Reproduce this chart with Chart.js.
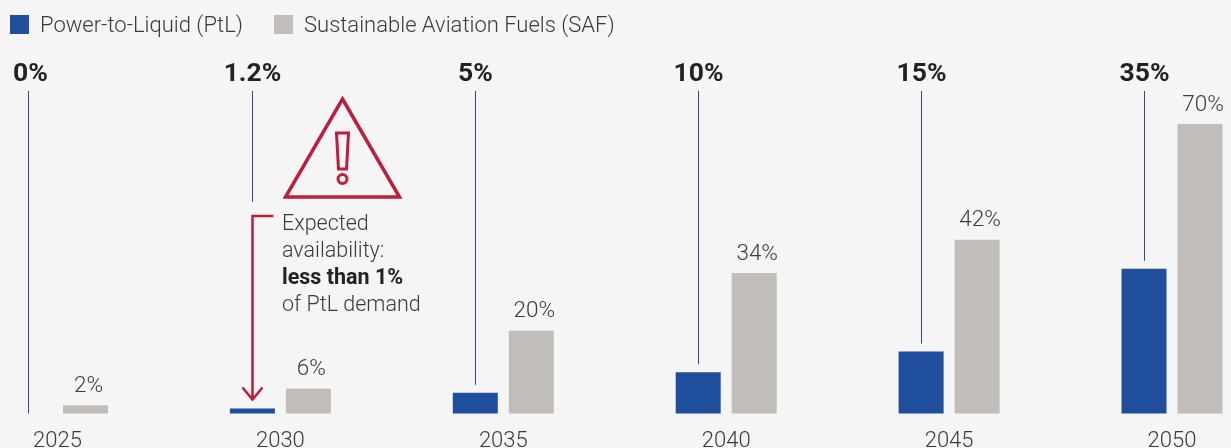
<!DOCTYPE html>
<html>
<head>
<meta charset="utf-8">
<style>
  html, body { margin: 0; background: #f5f5f5; overflow: hidden; }
  #wrap { position: relative; width: 1231px; height: 448px; }
  #legend { position: absolute; left: 10px; top: 12px; height: 26px; font: 300 22px/26px Roboto, sans-serif; color: #3a3a3a; white-space: nowrap; }
  #legend span { position: absolute; top: 0; }
  #legend i { position: absolute; top: 3px; width: 19px; height: 19px; }
</style>
</head>
<body>
<div id="wrap">
  <canvas id="chart" width="1231" height="448"></canvas>
  <div id="legend"></div>
</div>
<script src="https://cdn.jsdelivr.net/npm/chart.js@4/dist/chart.umd.js"></script>
<script>
const years = ['2025', '2030', '2035', '2040', '2045', '2050'];
const ptlValues = [0, 1.2, 5, 10, 15, 35];
const safValues = [2, 6, 20, 34, 42, 70];
const seriesNames = ['Power-to-Liquid (PtL)', 'Sustainable Aviation Fuels (SAF)'];
const noteLines = ['Expected', 'availability:', 'less than 1%', 'of PtL demand'];

const BLUE = '#1f4e9c';
const GREY = '#c1bdb9';
const RED = '#bd1e3c';
const NAVY = '#33487f';
const TEXT = '#3a3a3a';
const FONT = 'Roboto, sans-serif';

// legend is plain html, the chart legend can't be placed above the padded area
const legendLeft = [0, 264];
const legendEl = document.getElementById('legend');
seriesNames.forEach((name, i) => {
  const box = document.createElement('i');
  box.style.left = legendLeft[i] + 'px';
  box.style.background = i === 0 ? BLUE : GREY;
  const label = document.createElement('span');
  label.style.left = (legendLeft[i] + 30) + 'px';
  label.textContent = name;
  legendEl.append(box, label);
});

const overlay = {
  id: 'overlay',
  afterDatasetsDraw(chart) {
    const ctx = chart.ctx;
    const ptl = chart.getDatasetMeta(0).data;
    const saf = chart.getDatasetMeta(1).data;
    ctx.save();
    ctx.textAlign = 'center';
    ctx.textBaseline = 'middle';

    // values above the SAF bars
    ctx.fillStyle = TEXT;
    ctx.font = '300 22.5px ' + FONT;
    saf.forEach((bar, i) => ctx.fillText(safValues[i] + '%', bar.x + 3, bar.y - 19));

    ptl.forEach((bar, i) => {
      const x = Math.round(bar.x) + 0.5;
      // bold PtL value on top with a thin leader down to the bar
      ctx.fillStyle = '#222222';
      ctx.font = '700 26.5px ' + FONT;
      ctx.fillText(ptlValues[i] + '%', x, 74);
      // the first leader sits a little left of its label
      const lineX = i === 0 ? x - 2 : x;
      ctx.strokeStyle = NAVY;
      ctx.lineWidth = 1;
      ctx.beginPath();
      ctx.moveTo(lineX, 91);
      ctx.lineTo(lineX, i === 0 ? bar.y : i === 1 ? 202 : bar.y - 8);
      ctx.stroke();
    });

    // warning + arrow next to 2030
    const x = Math.round(ptl[1].x) + 0.5;
    const tip = ptl[1].y - 9;
    ctx.strokeStyle = RED;
    ctx.lineWidth = 2.5;
    ctx.beginPath();
    ctx.moveTo(x + 21, 216);
    ctx.lineTo(x, 216);
    ctx.lineTo(x, tip);
    ctx.moveTo(x - 10, tip - 12);
    ctx.lineTo(x, tip);
    ctx.lineTo(x + 10, tip - 12);
    ctx.stroke();

    const cx = x + 90;
    ctx.lineWidth = 3.5;
    ctx.beginPath();
    ctx.moveTo(cx, 99);
    ctx.lineTo(cx + 57, 197);
    ctx.lineTo(cx - 57, 197);
    ctx.closePath();
    ctx.stroke();
    ctx.lineWidth = 3;
    ctx.beginPath();
    ctx.moveTo(cx - 6, 133);
    ctx.lineTo(cx + 6, 133);
    ctx.lineTo(cx + 4, 169);
    ctx.lineTo(cx - 4, 169);
    ctx.closePath();
    ctx.stroke();
    ctx.beginPath();
    ctx.arc(cx, 179, 4.5, 0, Math.PI * 2);
    ctx.stroke();

    ctx.textAlign = 'left';
    noteLines.forEach((line, i) => {
      ctx.font = (i === 2 ? '700 ' : '300 ') + '21.5px ' + FONT;
      ctx.fillStyle = i === 2 ? '#222222' : TEXT;
      ctx.fillText(line, x + 29.5, 225 + i * 27);
    });
    ctx.restore();
  },
};

new Chart(document.getElementById('chart'), {
  type: 'bar',
  data: {
    labels: years,
    datasets: [
      { label: seriesNames[0], data: ptlValues, backgroundColor: BLUE, clip: false },
      { label: seriesNames[1], data: safValues, backgroundColor: GREY, clip: false },
    ],
  },
  options: {
    responsive: false,
    animation: false,
    categoryPercentage: 112 / 222.9,
    barPercentage: 45 / 56,
    layout: { padding: { left: 57.5, right: 59, top: 124, bottom: 0 } },
    plugins: { legend: { display: false }, tooltip: { enabled: false } },
    scales: {
      x: {
        offset: false,
        grid: { display: false },
        border: { display: false },
        ticks: { color: TEXT, font: { family: FONT, size: 22, weight: '300', lineHeight: 1 }, padding: 9, maxRotation: 0, autoSkip: false },
        afterFit(scale) { scale.height = 34.5; },
      },
      y: { display: false, min: 0, max: 70 },
    },
  },
  plugins: [overlay, {
    id: 'background',
    beforeDraw(chart) {
      chart.ctx.fillStyle = '#f5f5f5';
      chart.ctx.fillRect(0, 0, chart.width, chart.height);
    },
  }],
});
</script>
</body>
</html>
